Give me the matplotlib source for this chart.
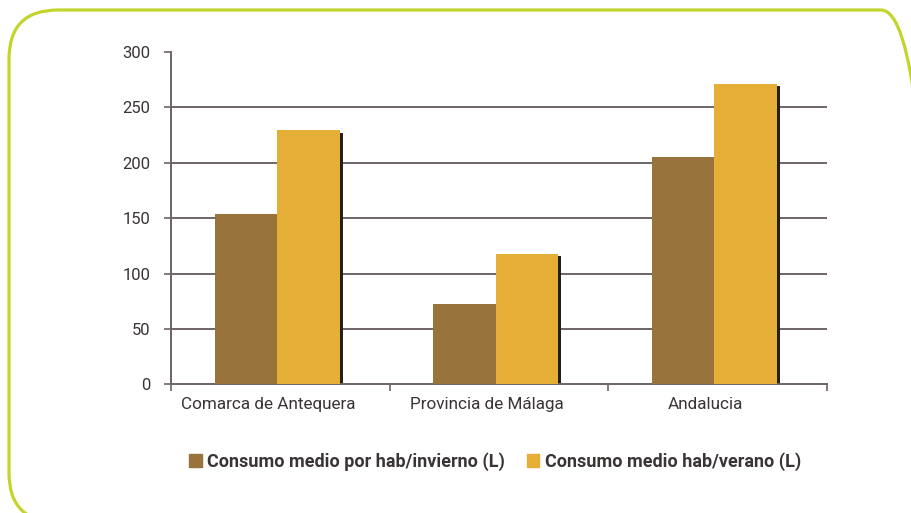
import numpy as np
import matplotlib.pyplot as plt
from matplotlib.patches import FancyBboxPatch, Patch
from matplotlib.transforms import IdentityTransform, ScaledTranslation

plt.rcParams['font.family'] = ['Roboto', 'DejaVu Sans']

# Data
categories = ['Comarca de Antequera', 'Provincia de Málaga', 'Andalucia']
winter = [154, 73, 205]
summer = [229, 118, 271]
labels = ['Consumo medio por hab/invierno (L)', 'Consumo medio hab/verano (L)']

brown = '#98743c'
yellow = '#e4ae37'
grid_col = '#6e6565'
text_col = '#3a3434'

fig = plt.figure(figsize=(9.11, 5.13), dpi=100)
ax = fig.add_axes([0.1877, 0.2505, 0.7201, 0.6487])

x = np.arange(len(categories))
xb = x - 0.015
w = 0.286
ax.bar(xb - w / 2, winter, w, color=brown, zorder=3)
# dark shadow on the right of the summer bars
ax.bar(xb + w + 0.007, np.array(summer) - 2, 0.014, color='#231f1c', zorder=2)
ax.bar(xb + w / 2, summer, w, color=yellow, zorder=3)

ax.set_xlim(-0.5, len(categories) - 0.5)
ax.set_ylim(0, 300)
ax.set_yticks(np.arange(0, 301, 50))
for v in range(50, 300, 50):
    ax.axhline(v, color=grid_col, lw=1.4, zorder=1)

ax.set_xticks(x)
ax.set_xticklabels(categories, fontsize=12.3, color=text_col)
ax.tick_params(axis='x', length=0, pad=9)
shift = ScaledTranslation(-12 / 100, 0, fig.dpi_scale_trans)
for lab in ax.get_xticklabels():
    lab.set_transform(lab.get_transform() + shift)
ax.set_xticks(np.arange(-0.5, len(categories)), minor=True)
ax.tick_params(axis='x', which='minor', length=5, width=1.2, color=grid_col, direction='out')
ax.tick_params(axis='y', length=5, width=1.2, color=grid_col, labelsize=12,
               labelcolor=text_col, pad=10)

for s in ['top', 'right']:
    ax.spines[s].set_visible(False)
for s in ['left', 'bottom']:
    ax.spines[s].set_color(grid_col)
    ax.spines[s].set_linewidth(1.4)

handles = [Patch(color=brown), Patch(color=yellow)]
fig.legend(handles, labels, loc='center', bbox_to_anchor=(0.5435, 0.1), ncol=2,
           frameon=False, handlelength=0.7, handleheight=0.7, handletextpad=0.3,
           columnspacing=1.2, prop={'weight': 'bold', 'size': 13})
for t in fig.legends[0].get_texts():
    t.set_color(text_col)

# rounded frame in pixel coordinates (origin bottom-left)
frame = FancyBboxPatch((9, -9), 921, 512, boxstyle='round,pad=0,rounding_size=49',
                       transform=IdentityTransform(), fill=False,
                       edgecolor='#c3d52a', lw=2.3)
fig.patches.append(frame)

fig.savefig('out.png', dpi=100)
